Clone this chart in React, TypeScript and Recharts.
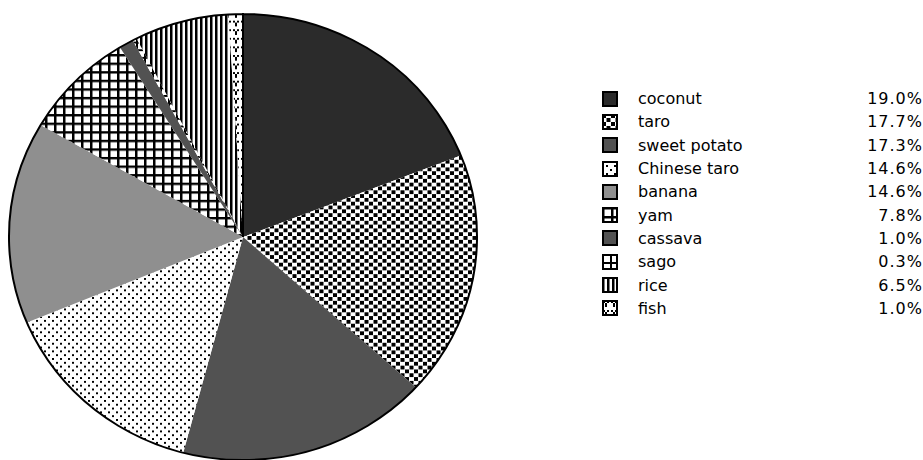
import React from 'react';
import { PieChart, Pie, Cell, Legend } from 'recharts';

const categories = ['coconut', 'taro', 'sweet potato', 'Chinese taro', 'banana', 'yam', 'cassava', 'sago', 'rice', 'fish'];
const shares = [19.0, 17.7, 17.3, 14.6, 14.6, 7.8, 1.0, 0.3, 6.5, 1.0];
const shareLabels = ['19.0%', '17.7%', '17.3%', '14.6%', '14.6%', '7.8%', '1.0%', '0.3%', '6.5%', '1.0%'];

const fills = [
  '#2b2b2b',
  'url(#pTaro)',
  '#525252',
  'url(#pChTaro)',
  '#8f8f8f',
  'url(#pYam)',
  '#525252',
  'url(#pSago)',
  'url(#pRice)',
  'url(#pFish)',
];

const data = categories.map((name, i) => ({ name, value: shares[i], label: shareLabels[i] }));
const outline = [{ name: 'all', value: 1 }];

const Patterns = () => (
  <svg width={0} height={0} style={{ position: 'absolute' }}>
    <defs>
      <pattern id="pTaro" width={9} height={8} patternUnits="userSpaceOnUse">
        <rect width={9} height={8} fill="#fff" />
        <rect x={0} y={0} width={4} height={4} fill="#000" />
        <rect x={4.5} y={4} width={4} height={4} fill="#000" />
      </pattern>
      <pattern id="pChTaro" width={8} height={8} patternUnits="userSpaceOnUse">
        <rect width={8} height={8} fill="#fff" />
        <rect x={0} y={0} width={2} height={2} fill="#000" />
        <rect x={4} y={4} width={2} height={2} fill="#000" />
      </pattern>
      <pattern id="pYam" width={9} height={9} patternUnits="userSpaceOnUse">
        <rect width={9} height={9} fill="#000" />
        <rect x={2.5} y={2.5} width={6.5} height={6.5} fill="#fff" />
      </pattern>
      <pattern id="pSago" width={8} height={8} patternUnits="userSpaceOnUse">
        <rect width={8} height={8} fill="#fff" />
        <rect x={0} y={0} width={8} height={2} fill="#000" />
        <rect x={0} y={0} width={2} height={8} fill="#000" />
      </pattern>
      <pattern id="pRice" width={5} height={5} patternUnits="userSpaceOnUse">
        <rect width={5} height={5} fill="#fff" />
        <rect x={0} y={0} width={2.5} height={5} fill="#000" />
      </pattern>
      <pattern id="pFish" width={8} height={9} patternUnits="userSpaceOnUse">
        <rect width={8} height={9} fill="#fff" />
        <rect x={1} y={1} width={2} height={2} fill="#000" />
        <rect x={5} y={1} width={2} height={2} fill="#000" />
        <rect x={3} y={3} width={2} height={4} fill="#000" />
      </pattern>
    </defs>
  </svg>
);

const renderLegend = () => (
  <div style={{ fontFamily: '"DejaVu Sans", Verdana, sans-serif', fontSize: 16, color: '#000' }}>
    {data.map((d, i) => (
      <div key={d.name} style={{ display: 'flex', alignItems: 'center', height: 23.3 }}>
        <svg width={16} height={16} style={{ marginRight: 20 }}>
          <rect x={1} y={1} width={14} height={14} fill={fills[i]} stroke="#000" strokeWidth={2} />
        </svg>
        <span style={{ flex: 1 }}>{d.name}</span>
        <span style={{ textAlign: 'right', letterSpacing: 1 }}>{d.label}</span>
      </div>
    ))}
  </div>
);

export default function App() {
  return (
    <div style={{ position: 'absolute', left: 0, top: 0, width: 923, height: 460, overflow: 'hidden', background: '#fff' }}>
      <style>{`.recharts-pie { transform: scaleY(0.953); transform-origin: 243px 237px; }`}</style>
      <Patterns />
      <PieChart width={923} height={460} margin={{ top: 0, right: 0, bottom: 0, left: 0 }}>
        <Pie
          data={data}
          dataKey="value"
          nameKey="name"
          cx={243}
          cy={237}
          outerRadius={234}
          startAngle={90}
          endAngle={-270}
          stroke="none"
          isAnimationActive={false}
        >
          {data.map((d, i) => (
            <Cell key={d.name} fill={fills[i]} stroke="none" />
          ))}
        </Pie>
        <Pie
          data={outline}
          dataKey="value"
          cx={243}
          cy={237}
          outerRadius={234}
          startAngle={90}
          endAngle={-270}
          fill="none"
          stroke="#000"
          strokeWidth={2}
          isAnimationActive={false}
        />
        <Legend
          content={renderLegend}
          layout="vertical"
          verticalAlign="top"
          align="right"
          wrapperStyle={{ position: 'absolute', left: 602, top: 87, width: 321 }}
        />
      </PieChart>
    </div>
  );
}
